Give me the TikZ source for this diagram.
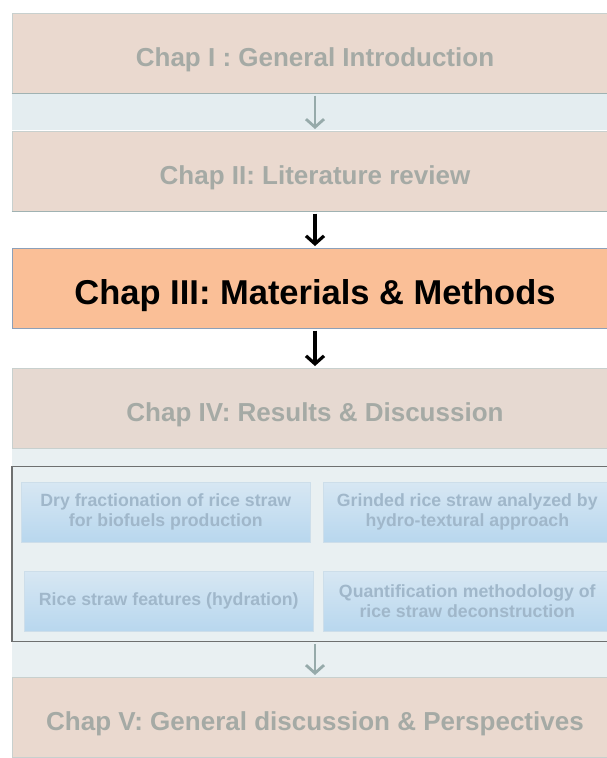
\documentclass[tikz,border=0pt]{standalone}
\usepackage{fontspec}
\setmainfont{Liberation Sans}
\usetikzlibrary{arrows.meta}
\definecolor{chapfill}{RGB}{234,217,207}
\definecolor{chapfillb}{RGB}{230,217,209}
\definecolor{chaptext}{RGB}{165,170,165}
\definecolor{chapedge}{RGB}{200,208,206}
\definecolor{chapshadow}{RGB}{160,178,178}
\definecolor{orangefill}{RGB}{250,191,151}
\definecolor{orangeedge}{RGB}{140,160,185}
\definecolor{bandfill}{RGB}{228,237,240}
\definecolor{regionfill}{RGB}{233,240,242}
\definecolor{framecol}{RGB}{110,112,112}
\definecolor{bluetop}{RGB}{215,231,243}
\definecolor{bluebot}{RGB}{184,215,238}
\definecolor{blueedge}{RGB}{205,222,234}
\definecolor{bluetext}{RGB}{160,183,202}
\definecolor{grayarrow}{RGB}{150,170,170}
\begin{document}
\begin{tikzpicture}[x=1pt,y=-1pt,
  chapbox/.style={minimum width=606pt, minimum height=80pt, inner sep=0pt,
    fill=chapfill, draw=chapedge, line width=0.6pt, text=chaptext, anchor=north,
    text height=26pt, text depth=0pt,
    font=\fontsize{26}{30}\selectfont\bfseries},
  mainbox/.style={chapbox, fill=orangefill, draw=orangeedge, text=black,
    text height=32pt, text depth=0pt,
    font=\fontsize{34.5}{40}\selectfont\bfseries},
  bluebox/.style={minimum height=60pt, inner sep=0pt, anchor=north west,
    top color=bluetop, bottom color=bluebot, draw=blueedge, line width=0.6pt,
    text=bluetext, align=center, font=\fontsize{17.7}{20}\selectfont\bfseries},
  groupframe/.style={minimum width=606pt, minimum height=175pt, inner sep=0pt,
    anchor=north, draw=framecol, line width=1.2pt},
  grayarr/.style={draw=grayarrow, line width=2.8pt,
    -{Straight Barb[length=8pt,width=18pt]}, shorten <=2pt, shorten >=2pt},
  blackarr/.style={draw=black, line width=3.2pt,
    -{Straight Barb[length=8pt,width=18pt]}, shorten <=2pt, shorten >=2pt},
  bottomline/.style={draw=chapshadow, line width=1.6pt}
]
\useasboundingbox (0,0) rectangle (607,758);
\clip (0,0) rectangle (607,758);
\fill[white] (0,0) rectangle (607,758);
% background bands
\fill[bandfill] (12,92) rectangle (620,130);
\fill[regionfill] (12,447) rectangle (620,677);

\node[chapbox] (c1) at (315,13) {Chap I : General Introduction};
\node[chapbox] (c2) at (315,131) {Chap II: Literature review};
\node[mainbox] (c3) at (315,248) {Chap III: Materials \& Methods};
\node[chapbox, fill=chapfillb] (c4) at (315,368) {Chap IV: Results \& Discussion};
\node[groupframe] (grp) at (315,466) {};
\node[bluebox, minimum width=289pt] (d1) at (21,482) {Dry fractionation of rice straw\\for biofuels production};
\node[bluebox, minimum width=288pt] (d2) at (323,482) {Grinded rice straw analyzed by\\hydro-textural approach};
\node[bluebox, minimum width=289pt] (d3) at (24,571) {Rice straw features (hydration)};
\node[bluebox, minimum width=288pt] (d4) at (323,571) {Quantification methodology of\\rice straw deconstruction};
\node[chapbox] (c5) at (315,677) {Chap V: General discussion \& Perspectives};

% bottom shadow lines of the upper boxes
\draw[bottomline] (c1.south west) -- (c1.south east);
\draw[bottomline] (c2.south west) -- (c2.south east);

\draw[grayarr] (c1.south) -- (c2.north);
\draw[blackarr] (c2.south) -- (c3.north);
\draw[blackarr] (c3.south) -- (c4.north);
\draw[grayarr] (grp.south) -- (c5.north);
\end{tikzpicture}
\end{document}
